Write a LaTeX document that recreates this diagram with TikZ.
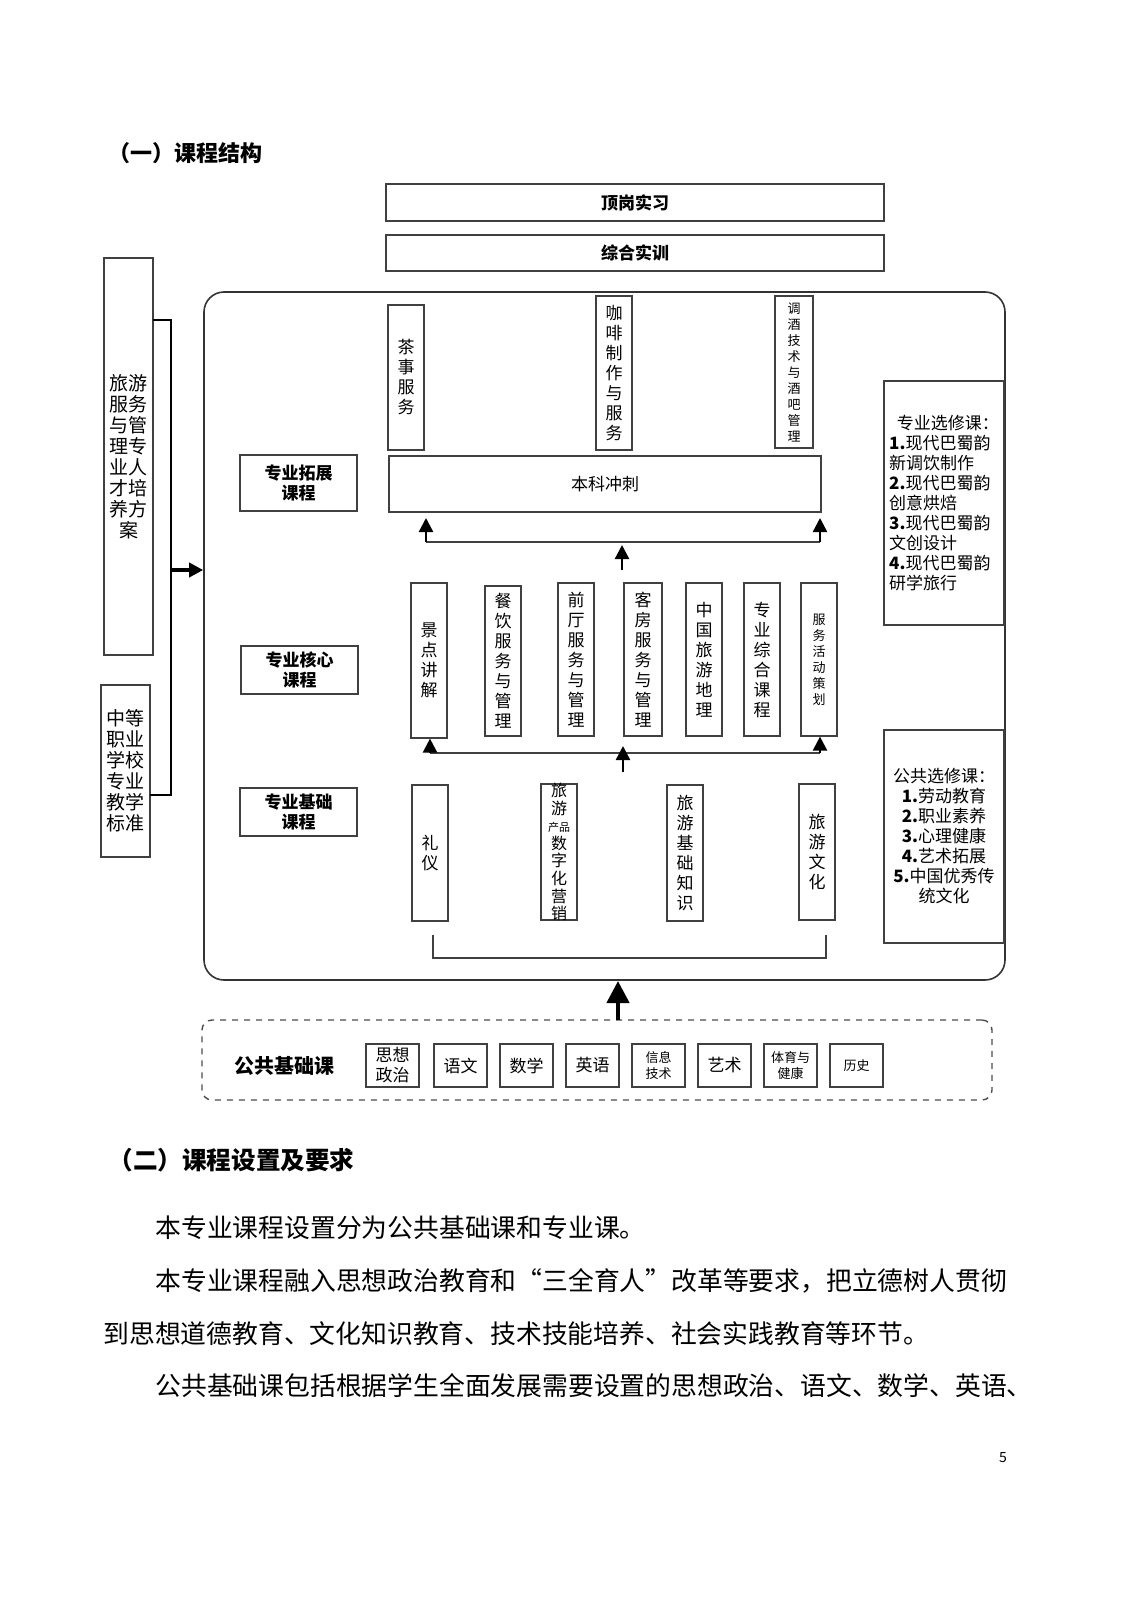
\documentclass[tikz,border=0pt]{standalone}
\usepackage{fontspec}
\setmainfont{Noto Sans CJK SC}
\usetikzlibrary{fit,arrows.meta}
\newcommand\bx[7][]{\node[draw=black!75,line width=0.6pt,inner sep=0pt,fit={(#3,#4)(#5,#6)}] (#2) {};%
  \node[align=center,inner sep=0pt,#1] at (#2.center) {#7};}
\begin{document}
\begin{tikzpicture}[x=0.5pt,y=-0.5pt,
  vt/.style={font=\fontsize{8.5}{10}\selectfont},
  vts/.style={font=\fontsize{6.5}{8}\selectfont},
  hb/.style={font=\fontsize{8.5}{10}\selectfont\bfseries},
  ht/.style={font=\fontsize{8.5}{10}\selectfont},
  lt/.style={font=\fontsize{9.5}{10.5}\selectfont},
  para/.style={anchor=base west,inner sep=0pt,font=\fontsize{12.9}{14}\selectfont},
  arr/.style={line width=1.2pt,-{Triangle[length=7pt,width=7pt]}},
  line/.style={line width=0.7pt,draw=black!75}]
\fill[white] (0,0) rectangle (1131,1600);
\node[anchor=west,inner sep=0pt,font=\fontsize{11}{12}\selectfont\bfseries] (h1) at (108,153) {（一）课程结构};
\bx[hb]{dg}{386}{184}{884}{221}{顶岗实习}
\bx[hb]{zh}{386}{235}{884}{271}{综合实训}
\bx[lt]{l1}{104}{258}{153}{655}{旅游\\服务\\与管\\理专\\业人\\才培\\养方\\案}
\bx[lt]{l2}{101}{685}{150}{857}{中等\\职业\\学校\\专业\\教学\\标准}
\coordinate (b1) at (153,320); \coordinate (b2) at (171,320);
\coordinate (b3) at (171,795); \coordinate (b4) at (150,795);
\draw[line width=0.8pt] (b1)--(b2)--(b3)--(b4);
\coordinate (ba) at (171,570);
\node[draw=black!80,line width=0.8pt,rounded corners=10pt,inner sep=0pt,fit={(204,292)(1005,980)}] (main) {};
\draw[arr,line width=1.8pt] (ba) -- (main.west|-ba);
\bx[hb]{g1}{240}{455}{357}{511}{专业拓展\\课程}
\bx[hb]{g2}{241}{646}{358}{694}{专业核心\\课程}
\bx[hb]{g3}{240}{788}{357}{836}{专业基础\\课程}
\bx[vt]{t1}{388}{305}{424}{450}{茶\\事\\服\\务}
\bx[vt]{t2}{596}{296}{632}{450}{咖\\啡\\制\\作\\与\\服\\务}
\bx[vts]{t3}{775}{296}{813}{448}{调\\酒\\技\\术\\与\\酒\\吧\\管\\理}
\bx[ht]{bk}{389}{456}{821}{512}{本科冲刺}
\coordinate (a1) at (426,542); \coordinate (a2) at (820,542); \coordinate (a3) at (622,570);
\coordinate (a1t) at (426,518); \coordinate (a2t) at (820,518); \coordinate (a3t) at (622,545);
\draw[line] (a1)--(a2);
\draw[arr] (a1) -- (a1t);
\draw[arr] (a2) -- (a2t);
\draw[arr] (a3) -- (a3t);
\bx[vt]{c1}{411}{583}{447}{738}{景\\点\\讲\\解}
\bx[vt]{c2}{485}{586}{521}{736}{餐\\饮\\服\\务\\与\\管\\理}
\bx[vt]{c3}{558}{583}{594}{736}{前\\厅\\服\\务\\与\\管\\理}
\bx[vt]{c4}{624}{583}{662}{736}{客\\房\\服\\务\\与\\管\\理}
\bx[vt]{c5}{686}{583}{722}{736}{中\\国\\旅\\游\\地\\理}
\bx[vt]{c6}{744}{583}{780}{736}{专\\业\\综\\合\\课\\程}
\bx[vts]{c7}{801}{583}{837}{736}{服\\务\\活\\动\\策\\划}
\coordinate (d1) at (430,753); \coordinate (d2) at (820,753); \coordinate (d3) at (623,772);
\coordinate (d3t) at (623,746);
\draw[line] (d1)--(d2);
\draw[arr] (d1) -- (c1.south-|d1);
\draw[arr] (d2) -- (c7.south-|d2);
\draw[arr] (d3) -- (d3t);
\bx[vt]{f1}{412}{785}{448}{921}{礼\\仪}
\bx[font=\fontsize{8}{8.8}\selectfont]{f2}{541}{784}{577}{920}{旅\\游\\{\fontsize{5.5}{6}\selectfont 产品}\\数\\字\\化\\营\\销}
\bx[vt]{f3}{667}{785}{703}{921}{旅\\游\\基\\础\\知\\识}
\bx[vt]{f4}{799}{784}{835}{920}{旅\\游\\文\\化}
\coordinate (e1) at (433,935); \coordinate (e2) at (433,958);
\coordinate (e3) at (826,958); \coordinate (e4) at (826,935);
\draw[line] (e1)--(e2)--(e3)--(e4);
\bx[ht,align=left]{r1}{884}{381}{1004}{625}{\ \ 专业选修课：\\\textbf{1.}现代巴蜀韵\\新调饮制作\\\textbf{2.}现代巴蜀韵\\创意烘焙\\\textbf{3.}现代巴蜀韵\\文创设计\\\textbf{4.}现代巴蜀韵\\研学旅行}
\bx[ht]{r2}{884}{730}{1004}{943}{公共选修课：\\\textbf{1.}劳动教育\\\textbf{2.}职业素养\\\textbf{3.}心理健康\\\textbf{4.}艺术拓展\\\textbf{5.}中国优秀传\\统文化}
\node[draw=black!70,dashed,line width=0.7pt,rounded corners=5pt,inner sep=0pt,fit={(202,1020)(992,1100)}] (pub) {};
\coordinate (ua) at (618,1020); \coordinate (ub) at (618,981);
\draw[line width=2.2pt,-{Triangle[length=11pt,width=11pt]}] (ua) -- (ub);
\node[font=\fontsize{10}{12}\selectfont\bfseries] (pt) at (284,1066) {公共基础课};
\bx[ht]{p1}{366}{1044}{419}{1087}{思想\\政治}
\bx[ht]{p2}{434}{1044}{487}{1087}{语文}
\bx[ht]{p3}{500}{1044}{553}{1087}{数学}
\bx[ht]{p4}{566}{1044}{619}{1087}{英语}
\bx[vts]{p5}{632}{1044}{685}{1087}{信息\\技术}
\bx[ht]{p6}{698}{1044}{751}{1087}{艺术}
\bx[vts]{p7}{764}{1044}{817}{1087}{体育与\\健康}
\bx[vts]{p8}{830}{1044}{883}{1087}{历史}
\node[anchor=west,inner sep=0pt,font=\fontsize{12.3}{14}\selectfont\bfseries] (h2) at (108,1160) {（二）课程设置及要求};
\node[para] (s1) at (155,1237) {本专业课程设置分为公共基础课和专业课。};
\node[para] (s2) at (155,1290) {本专业课程融入思想政治教育和“三全育人”改革等要求，把立德树人贯彻};
\node[para] (s3) at (103,1343) {到思想道德教育、文化知识教育、技术技能培养、社会实践教育等环节。};
\node[para] (s4) at (155,1395) {公共基础课包括根据学生全面发展需要设置的思想政治、语文、数学、英语、};
\node[font=\fontsize{7}{8}\selectfont] (pg) at (1003,1458) {5};
\pgfresetboundingbox
\useasboundingbox (0,0) rectangle (1131,1600);
\end{tikzpicture}
\end{document}
